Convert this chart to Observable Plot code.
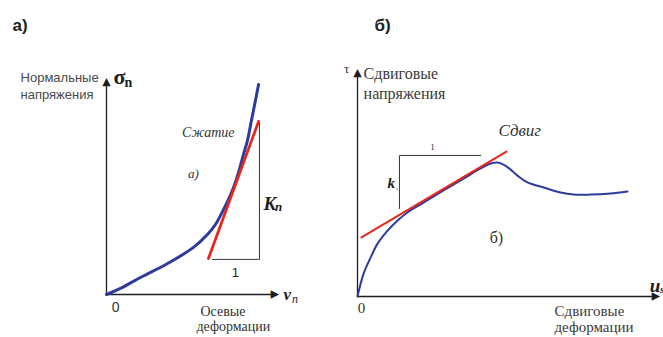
<!DOCTYPE html>
<html><head><meta charset="utf-8">
<script src="https://cdn.jsdelivr.net/npm/d3@7"></script>
<script src="https://cdn.jsdelivr.net/npm/@observablehq/plot@0.6"></script>
<style>
html,body{margin:0;padding:0;background:#fff;}
#wrap{position:relative;width:663px;height:337px;overflow:hidden;}
#a{position:absolute;left:0;top:0;}
#b{position:absolute;left:331px;top:0;}
</style></head><body>
<div id="wrap"><div id="a"></div><div id="b"></div></div>
<script>
// ---- Panel а) : normal stress vs axial strain ----
const normalX = [0, 0.80, 1.95, 3.51, 5.00, 5.80, 6.26, 6.67, 7.01, 7.30, 7.59, 7.87, 8.10, 8.33, 8.56, 8.74];
const normalY = [0, 0.28, 0.78, 1.42, 2.16, 2.75, 3.21, 3.81, 4.36, 4.91, 5.60, 6.42, 7.06, 7.98, 8.90, 9.63];
const normalTangentX = [5.86, 8.74];
const normalTangentY = [1.65, 7.94];
const normalTriangleX = [6.09, 8.79, 8.79];
const normalTriangleY = [1.61, 1.61, 7.89];

// ---- Panel б) : shear stress vs shear strain ----
const shearX = [0, 0.20, 0.43, 0.66, 0.99, 1.32, 1.64, 2.17, 2.83, 3.49, 4.05, 4.38, 4.61, 4.80, 5.03, 5.26, 5.59, 6.12, 6.68, 7.11, 7.66, 8.32, 8.88];
const shearY = [0, 1.00, 1.70, 2.31, 2.88, 3.32, 3.67, 4.10, 4.63, 5.15, 5.59, 5.81, 5.85, 5.76, 5.55, 5.28, 4.98, 4.76, 4.54, 4.45, 4.45, 4.50, 4.59];
const shearTangentX = [0.13, 4.90];
const shearTangentY = [2.58, 6.33];
const shearTriangleX = [1.38, 1.38, 4.05];
const shearTriangleY = [3.84, 6.16, 6.16];

const zip = (xs, ys) => xs.map((x, i) => ({x, y: ys[i]}));

const BLUE = "#2c3c9c", RED = "#e8261c", INK = "#1e1e1e";
const SERIF = "Liberation Serif, DejaVu Serif, serif";
const SANS = "Liberation Sans, Arial, sans-serif";

function axesMarks() {
  return [
    Plot.ruleX([0], {y1: 0, y2: 9.7, stroke: INK, strokeWidth: 1.3}),
    Plot.ruleY([0], {x1: 0, x2: 9.8, stroke: INK, strokeWidth: 1.3}),
    Plot.text([{x: 0, y: 10}], {x: "x", y: "y", text: () => "▲", fontFamily: "DejaVu Sans", fontSize: 11, fill: INK, dy: 5}),
    Plot.text([{x: 10, y: 0}], {x: "x", y: "y", text: () => "▲", fontFamily: "DejaVu Sans", fontSize: 11, fill: INK, rotate: 90, dx: -5})
  ];
}
function t(x, y, text, o) {
  return Plot.text([{x, y, text}], Object.assign({x: "x", y: "y", text: "text", clip: false}, o));
}

const plotA = Plot.plot({
  width: 331, height: 337,
  marginLeft: 106, marginRight: 51, marginTop: 76, marginBottom: 43,
  x: {domain: [0, 10], axis: null},
  y: {domain: [0, 10], axis: null},
  style: {background: "transparent", overflow: "visible"},
  marks: [
    ...axesMarks(),
    Plot.line(zip(normalTriangleX, normalTriangleY), {x: "x", y: "y", stroke: "#333", strokeWidth: 1}),
    Plot.line(zip(normalX, normalY), {x: "x", y: "y", stroke: BLUE, strokeWidth: 3, curve: "catmull-rom"}),
    Plot.line(zip(normalTangentX, normalTangentY), {x: "x", y: "y", stroke: RED, strokeWidth: 2.8}),
    t(-5.40, 12.34, "а)", {textAnchor: "start", fontFamily: SANS, fontWeight: "bold", fontSize: 17, fill: "#222"}),
    t(-4.94, 9.95, "Нормальные", {textAnchor: "start", fontFamily: SANS, fontSize: 13, fill: "#4a4a4a"}),
    t(-4.94, 9.17, "напряжения", {textAnchor: "start", fontFamily: SANS, fontSize: 13, fill: "#4a4a4a"}),
    t(0.40, 10.0, "σ", {textAnchor: "start", fontFamily: SERIF, fontWeight: "bold", fontSize: 22, fill: INK}),
    t(1.03, 9.72, "n", {textAnchor: "start", fontFamily: SERIF, fontWeight: "bold", fontSize: 14, fill: INK}),
    t(5.85, 7.43, "Сжатие", {fontFamily: SERIF, fontStyle: "italic", fontSize: 14, fill: "#333"}),
    t(5.00, 5.55, "а)", {fontFamily: SERIF, fontStyle: "italic", fontSize: 13, fill: "#333"}),
    t(9.02, 4.17, "K", {textAnchor: "start", fontFamily: SERIF, fontStyle: "italic", fontWeight: "bold", fontSize: 19, fill: INK}),
    t(9.68, 4.00, "n", {textAnchor: "start", fontFamily: SERIF, fontStyle: "italic", fontWeight: "bold", fontSize: 13, fill: INK}),
    t(7.41, 1.01, "1", {fontFamily: SANS, fontSize: 13, fill: INK}),
    t(0.52, -0.60, "0", {fontFamily: SANS, fontSize: 14, fill: "#333"}),
    t(10.17, 0.02, "v", {textAnchor: "start", fontFamily: SERIF, fontStyle: "italic", fontWeight: "bold", fontSize: 17, fill: INK}),
    t(10.66, -0.20, "n", {textAnchor: "start", fontFamily: SERIF, fontStyle: "italic", fontSize: 12, fill: INK}),
    t(5.40, -0.80, "Осевые", {textAnchor: "start", fontFamily: SERIF, fontSize: 14, fill: "#333"}),
    t(5.17, -1.49, "деформации", {textAnchor: "start", fontFamily: SERIF, fontSize: 14, fill: "#333"})
  ]
});

const plotB = Plot.plot({
  width: 332, height: 337,
  marginLeft: 26, marginRight: 2, marginTop: 67, marginBottom: 41,
  x: {domain: [0, 10], axis: null},
  y: {domain: [0, 10], axis: null},
  style: {background: "transparent", overflow: "visible"},
  marks: [
    ...axesMarks(),
    Plot.line(zip(shearTriangleX, shearTriangleY), {x: "x", y: "y", stroke: "#333", strokeWidth: 1}),
    Plot.line(zip(shearX, shearY), {x: "x", y: "y", stroke: BLUE, strokeWidth: 2, curve: "catmull-rom"}),
    Plot.line(zip(shearTangentX, shearTangentY), {x: "x", y: "y", stroke: RED, strokeWidth: 2}),
    t(0.56, 11.83, "б)", {textAnchor: "start", fontFamily: SANS, fontWeight: "bold", fontSize: 17, fill: "#222"}),
    t(-0.36, 9.96, "τ", {fontFamily: SERIF, fontSize: 13, fill: "#333"}),
    t(0.20, 9.74, "Сдвиговые", {textAnchor: "start", fontFamily: SERIF, fontSize: 16, fill: "#3a3a3a"}),
    t(0.20, 8.86, "напряжения", {textAnchor: "start", fontFamily: SERIF, fontSize: 16, fill: "#3a3a3a"}),
    t(4.64, 7.25, "Сдвиг", {textAnchor: "start", fontFamily: SERIF, fontStyle: "italic", fontSize: 17, fill: "#333"}),
    t(2.47, 6.51, "1", {fontFamily: SERIF, fontSize: 9, fill: "#333"}),
    t(0.99, 4.93, "k", {textAnchor: "start", fontFamily: SERIF, fontStyle: "italic", fontWeight: "bold", fontSize: 15, fill: INK}),
    t(1.27, 4.70, "s", {textAnchor: "start", fontFamily: SERIF, fontStyle: "italic", fontSize: 5, fill: INK}),
    t(4.57, 2.58, "б)", {fontFamily: SERIF, fontSize: 16, fill: "#333"}),
    t(0.13, -0.52, "0", {fontFamily: SERIF, fontSize: 15, fill: "#333"}),
    t(9.61, 0.48, "u", {textAnchor: "start", fontFamily: SERIF, fontStyle: "italic", fontWeight: "bold", fontSize: 19, fill: INK}),
    t(9.95, 0.30, "s", {textAnchor: "start", fontFamily: SERIF, fontStyle: "italic", fontWeight: "bold", fontSize: 11, fill: INK}),
    t(6.48, -0.66, "Сдвиговые", {textAnchor: "start", fontFamily: SERIF, fontSize: 15, fill: "#3a3a3a"}),
    t(6.48, -1.33, "деформации", {textAnchor: "start", fontFamily: SERIF, fontSize: 15, fill: "#3a3a3a"})
  ]
});

document.getElementById("a").appendChild(plotA);
document.getElementById("b").appendChild(plotB);
</script>
</body></html>
